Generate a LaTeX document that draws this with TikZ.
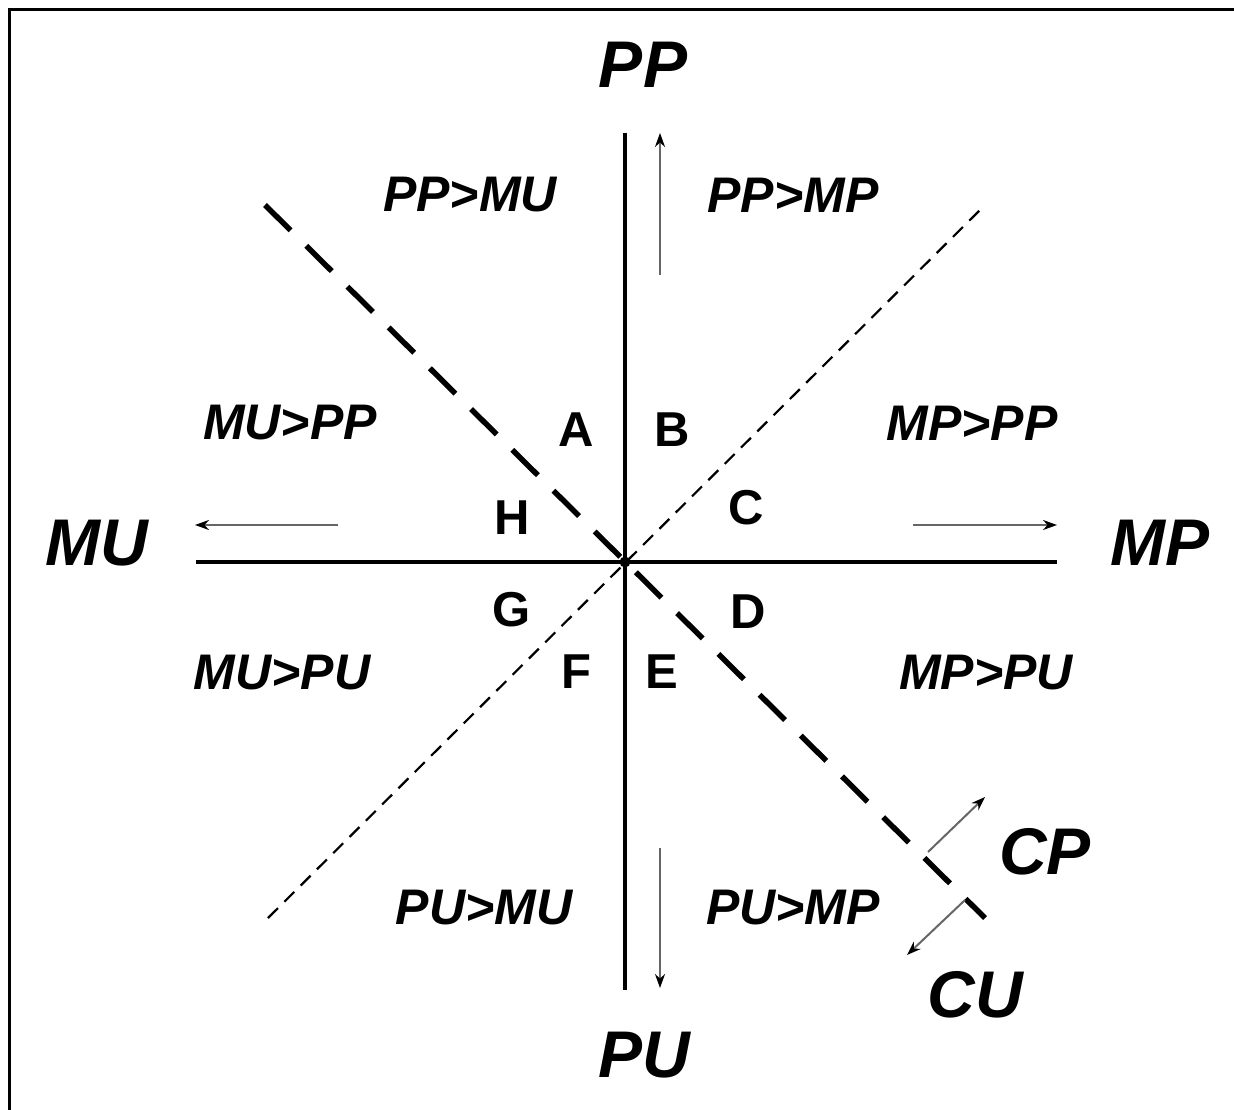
\documentclass[tikz,border=0pt]{standalone}
\usepackage{fontspec}
\setmainfont{Liberation Sans}
\usetikzlibrary{arrows.meta}
\begin{document}
\begin{tikzpicture}[x=1pt,y=-1pt,
  axis/.style={line width=3.5pt,black},
  bigdash/.style={line width=5.5pt,dash pattern=on 36pt off 22pt},
  smalldash/.style={line width=2.2pt,dash pattern=on 14pt off 9pt},
  garrow/.style={line width=2pt,black!60,-{Stealth[length=14pt,width=10pt,black]}},
  biglab/.style={inner sep=0pt,font=\fontsize{66}{70}\selectfont\bfseries\itshape},
  reglab/.style={inner sep=0pt,font=\fontsize{50}{54}\selectfont\bfseries\itshape},
  letlab/.style={inner sep=0pt,font=\fontsize{49}{52}\selectfont\bfseries}]
\useasboundingbox (0,0) rectangle (1234,1110);
\draw[line width=3pt] (9.5,1110) -- (9.5,10) -- (1234,10);
% axis end coordinates
\coordinate (vtop) at (625,133);
\coordinate (vbot) at (625,990);
\coordinate (hl) at (196,562);
\coordinate (hr) at (1057,562);
\coordinate (o) at (625,562);
\coordinate (d1a) at (265,205);
\coordinate (d1b) at (985,918);
\coordinate (d2a) at (268,918);
\coordinate (d2b) at (983,207);
\draw[bigdash] (d1a) -- (d1b);
\draw[smalldash] (d2a) -- (d2b);
\draw[axis] (vtop) -- (vbot);
\draw[axis] (hl) -- (hr);
\fill (o) circle (5.5pt);
% arrows
\coordinate (ua) at (660,275); \coordinate (ub) at (660,133);
\coordinate (da) at (660,848); \coordinate (db) at (660,988);
\coordinate (la) at (338,525); \coordinate (lb) at (195,525);
\coordinate (ra) at (913,525); \coordinate (rb) at (1057,525);
\coordinate (ca) at (928,852); \coordinate (cb) at (985,797);
\coordinate (cua) at (965,900); \coordinate (cub) at (907,955);
\draw[garrow] (ua) -- (ub);
\draw[garrow] (da) -- (db);
\draw[garrow] (la) -- (lb);
\draw[garrow] (ra) -- (rb);
\draw[garrow] (ca) -- (cb);
\draw[garrow] (cua) -- (cub);
% big labels
\node[biglab] (PP) at (643,65) {PP};
\node[biglab] (PU) at (644,1055) {PU};
\node[biglab] (MU) at (97,543) {MU};
\node[biglab] (MP) at (1160,543) {MP};
\node[biglab] (CP) at (1045,852) {CP};
\node[biglab] (CU) at (975,995) {CU};
% region labels
\node[reglab] (r1) at (470,195) {PP>MU};
\node[reglab] (r2) at (793,195) {PP>MP};
\node[reglab] (r3) at (290,423) {MU>PP};
\node[reglab] (r4) at (972,423) {MP>PP};
\node[reglab] (r5) at (282,673) {MU>PU};
\node[reglab] (r6) at (986,673) {MP>PU};
\node[reglab] (r7) at (484,908) {PU>MU};
\node[reglab] (r8) at (793,908) {PU>MP};
% letters
\node[letlab] (A) at (576,430) {A};
\node[letlab] (B) at (672,430) {B};
\node[letlab] (H) at (512,518) {H};
\node[letlab] (C) at (746,508) {C};
\node[letlab] (G) at (512,610) {G};
\node[letlab] (D) at (748,612) {D};
\node[letlab] (F) at (576,672) {F};
\node[letlab] (E) at (662,672) {E};
\end{tikzpicture}
\end{document}
